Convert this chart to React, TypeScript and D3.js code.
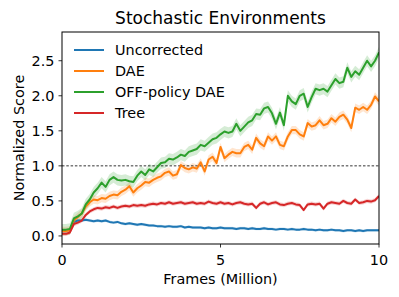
import React from "react";
import * as d3 from "d3";

const frames: number[] = d3.range(0, 81).map((i) => i / 8);

const uncorrected: number[] = [
  0.07, 0.08, 0.09, 0.20, 0.22, 0.22, 0.23, 0.22, 0.21, 0.22, 0.21, 0.22, 0.20, 0.19, 0.20, 0.18,
  0.17, 0.18, 0.17, 0.16, 0.17, 0.16, 0.15, 0.15, 0.14, 0.14, 0.13, 0.14, 0.13, 0.13, 0.14, 0.12,
  0.13, 0.12, 0.12, 0.12, 0.11, 0.12, 0.11, 0.11, 0.12, 0.11, 0.11, 0.11, 0.10, 0.11, 0.11, 0.10,
  0.11, 0.10, 0.10, 0.11, 0.10, 0.10, 0.09, 0.10, 0.10, 0.09, 0.10, 0.09, 0.09, 0.10, 0.09, 0.09,
  0.08, 0.09, 0.08, 0.08, 0.09, 0.08, 0.08, 0.07, 0.08, 0.08, 0.07, 0.08, 0.07, 0.08, 0.08, 0.08,
  0.08,
];

const dae: number[] = [
  0.07, 0.07, 0.08, 0.22, 0.27, 0.32, 0.42, 0.48, 0.52, 0.51, 0.54, 0.53, 0.57, 0.59, 0.58, 0.63,
  0.66, 0.71, 0.62, 0.68, 0.72, 0.77, 0.76, 0.80, 0.83, 0.85, 0.90, 0.92, 0.86, 0.88, 1.01, 0.97,
  0.95, 0.98, 0.96, 1.05, 0.92, 1.09, 1.13, 1.04, 1.27, 1.11, 1.16, 1.20, 1.18, 1.18, 1.27, 1.30,
  1.23, 1.40, 1.32, 1.28, 1.42, 1.36, 1.42, 1.30, 1.28, 1.42, 1.51, 1.51, 1.45, 1.42, 1.61, 1.56,
  1.58, 1.65, 1.58, 1.60, 1.68, 1.63, 1.70, 1.73, 1.66, 1.54, 1.83, 1.80, 1.84, 1.80, 1.87, 1.99,
  1.92,
];

const offPolicyDae: number[] = [
  0.09, 0.09, 0.10, 0.25, 0.28, 0.32, 0.45, 0.52, 0.62, 0.68, 0.76, 0.70, 0.80, 0.84, 0.80, 0.79,
  0.80, 0.78, 0.77, 0.86, 0.92, 0.87, 0.95, 0.92, 0.98, 1.04, 1.05, 1.10, 1.09, 1.12, 1.16, 1.14,
  1.20, 1.22, 1.24, 1.30, 1.28, 1.33, 1.38, 1.40, 1.45, 1.49, 1.47, 1.49, 1.60, 1.50, 1.56, 1.62,
  1.65, 1.74, 1.73, 1.82, 1.84, 1.75, 1.60, 1.76, 1.58, 2.00, 1.92, 1.88, 2.00, 2.03, 1.84, 1.98,
  2.10, 2.08, 2.10, 2.06, 2.15, 2.24, 2.18, 2.20, 2.40, 2.27, 2.35, 2.30, 2.40, 2.50, 2.42, 2.50,
  2.62,
];

const tree: number[] = [
  0.03, 0.03, 0.05, 0.17, 0.19, 0.22, 0.30, 0.35, 0.38, 0.40, 0.39, 0.41, 0.40, 0.42, 0.40, 0.42,
  0.43, 0.42, 0.44, 0.43, 0.44, 0.43, 0.45, 0.46, 0.45, 0.47, 0.46, 0.48, 0.46, 0.47, 0.48, 0.46,
  0.47, 0.48, 0.46, 0.47, 0.46, 0.49, 0.47, 0.46, 0.48, 0.46, 0.47, 0.45, 0.47, 0.48, 0.46, 0.45,
  0.46, 0.40, 0.46, 0.48, 0.45, 0.47, 0.48, 0.45, 0.44, 0.46, 0.47, 0.45, 0.44, 0.37, 0.45, 0.46,
  0.45, 0.46, 0.39, 0.46, 0.48, 0.47, 0.46, 0.50, 0.47, 0.46, 0.52, 0.47, 0.48, 0.50, 0.49, 0.51,
  0.57,
];

const seriesNames: string[] = ["Uncorrected", "DAE", "OFF-policy DAE", "Tree"];
const seriesValues: number[][] = [uncorrected, dae, offPolicyDae, tree];
const seriesSpread: number[] = [0.02, 0.06, 0.08, 0.03];
const seriesColors: string[] = ["#1f77b4", "#ff7f0e", "#2ca02c", "#d62728"];

const xTicks: number[] = [0, 5, 10];
const yTicks: number[] = [0, 0.5, 1, 1.5, 2, 2.5];

const W = 399;
const H = 297;
const L = 62;
const R = 379;
const T = 32;
const B = 244;
const FONT = "DejaVu Sans, sans-serif";
const FS = 14.4;

export default function App() {
  const x = d3.scaleLinear().domain([0, 10]).range([L, R]);
  const y = d3.scaleLinear().domain([-0.115, 2.91]).range([B, T]);

  const line = d3
    .line<number>()
    .x((_, i) => x(frames[i]))
    .y((d) => y(d));

  return (
    <svg
      width={W}
      height={H}
      style={{ position: "absolute", left: 0, top: 0, background: "#fff" }}
      fontFamily={FONT}
    >
      <defs>
        <clipPath id="plotclip">
          <rect x={L} y={T} width={R - L} height={B - T} />
        </clipPath>
      </defs>
      <rect x={0} y={0} width={W} height={H} fill="#fff" />
      <g clipPath="url(#plotclip)">
        {seriesValues.map((vals, s) => {
          const area = d3
            .area<number>()
            .x((_, i) => x(frames[i]))
            .y0((d) => y(d - seriesSpread[s]))
            .y1((d) => y(d + seriesSpread[s]));
          return (
            <path key={"a" + s} d={area(vals) || ""} fill={seriesColors[s]} fillOpacity={0.2} stroke="none" />
          );
        })}
        <line
          x1={L}
          x2={R}
          y1={y(1)}
          y2={y(1)}
          stroke="#000"
          strokeWidth={0.8}
          strokeDasharray="2.5,1.8"
        />
        {seriesValues.map((vals, s) => (
          <path
            key={"l" + s}
            d={line(vals) || ""}
            fill="none"
            stroke={seriesColors[s]}
            strokeWidth={2}
            strokeLinejoin="round"
          />
        ))}
      </g>
      <rect x={L} y={T} width={R - L} height={B - T} fill="none" stroke="#000" strokeWidth={1} />
      {yTicks.map((t) => (
        <g key={"y" + t}>
          <line x1={L - 3.5} x2={L} y1={y(t)} y2={y(t)} stroke="#000" strokeWidth={0.8} />
          <text x={L - 7.5} y={y(t)} dy="0.36em" textAnchor="end" fontSize={FS} fill="#000">
            {t.toFixed(1)}
          </text>
        </g>
      ))}
      {xTicks.map((t) => (
        <g key={"x" + t}>
          <line x1={x(t)} x2={x(t)} y1={B} y2={B + 3.5} stroke="#000" strokeWidth={0.8} />
          <text x={x(t)} y={265} textAnchor="middle" fontSize={FS} fill="#000">
            {t}
          </text>
        </g>
      ))}
      <text x={(L + R) / 2} y={284} textAnchor="middle" fontSize={FS} fill="#000">
        Frames (Million)
      </text>
      <text
        transform={`translate(${23.5},${(T + B) / 2}) rotate(-90)`}
        textAnchor="middle"
        fontSize={FS}
        fill="#000"
      >
        Normalized Score
      </text>
      <text x={(L + R) / 2} y={23.5} textAnchor="middle" fontSize={17} fill="#000">
        Stochastic Environments
      </text>
      {seriesNames.map((n, s) => (
        <g key={"lg" + s}>
          <line x1={74} x2={104} y1={50 + s * 21} y2={50 + s * 21} stroke={seriesColors[s]} strokeWidth={2} />
          <text x={115} y={50 + s * 21} dy="0.36em" fontSize={FS} fill="#000">
            {n}
          </text>
        </g>
      ))}
    </svg>
  );
}
